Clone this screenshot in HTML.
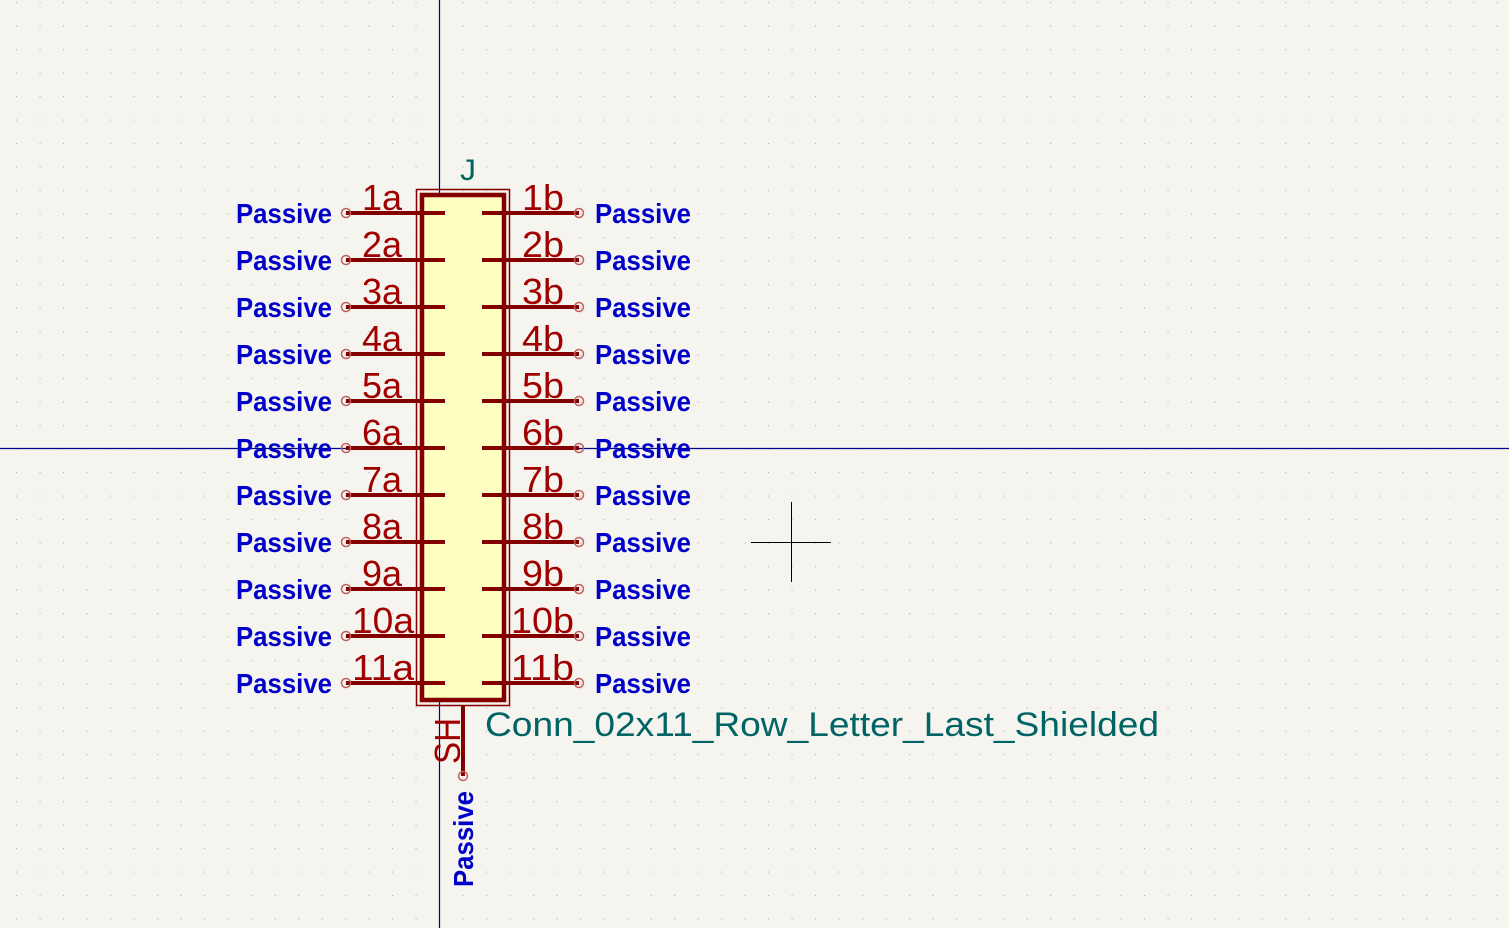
<!DOCTYPE html>
<html><head><meta charset="utf-8"><style>html,body{margin:0;padding:0;background:#f5f4ef;overflow:hidden;width:1509px;height:928px}svg{display:block}</style></head>
<body>
<svg width="1509" height="928" xmlns="http://www.w3.org/2000/svg">
<defs>
<pattern id="g" x="16" y="2" width="23.5" height="23.5" patternUnits="userSpaceOnUse">
<rect x="-0.5" y="-0.5" width="1.6" height="1.6" fill="#b4b4b4"/>
</pattern>
</defs>
<rect width="1509" height="928" fill="#f5f4ef"/>
<rect width="1509" height="928" fill="url(#g)"/>
<line x1="439.5" y1="0" x2="439.5" y2="928" stroke="#00008c" stroke-width="1.2"/>
<line x1="0" y1="448.5" x2="1509" y2="448.5" stroke="#00008c" stroke-width="1.2"/>
<line x1="751" y1="542.5" x2="831" y2="542.5" stroke="#000" stroke-width="1"/>
<line x1="791.5" y1="502" x2="791.5" y2="582" stroke="#000" stroke-width="1"/>
<rect x="416.5" y="189.5" width="93" height="516" fill="none" stroke="#840000" stroke-width="1.5"/>
<rect x="422" y="195" width="82" height="505" fill="#ffffc2" stroke="#840000" stroke-width="4.5"/>
<g stroke="#840000" stroke-width="4" fill="none">
<path d="M346 213H445M482 213H579M346 260H445M482 260H579M346 307H445M482 307H579M346 354H445M482 354H579M346 401H445M482 401H579M346 448H445M482 448H579M346 495H445M482 495H579M346 542H445M482 542H579M346 589H445M482 589H579M346 636H445M482 636H579M346 683H445M482 683H579M463 706V776"/>
</g>
<g stroke="#c06060" stroke-width="1.5" fill="none">
<circle cx="346" cy="213" r="4.5"/><circle cx="579" cy="213" r="4.5"/>
<circle cx="346" cy="260" r="4.5"/><circle cx="579" cy="260" r="4.5"/>
<circle cx="346" cy="307" r="4.5"/><circle cx="579" cy="307" r="4.5"/>
<circle cx="346" cy="354" r="4.5"/><circle cx="579" cy="354" r="4.5"/>
<circle cx="346" cy="401" r="4.5"/><circle cx="579" cy="401" r="4.5"/>
<circle cx="346" cy="448" r="4.5"/><circle cx="579" cy="448" r="4.5"/>
<circle cx="346" cy="495" r="4.5"/><circle cx="579" cy="495" r="4.5"/>
<circle cx="346" cy="542" r="4.5"/><circle cx="579" cy="542" r="4.5"/>
<circle cx="346" cy="589" r="4.5"/><circle cx="579" cy="589" r="4.5"/>
<circle cx="346" cy="636" r="4.5"/><circle cx="579" cy="636" r="4.5"/>
<circle cx="346" cy="683" r="4.5"/><circle cx="579" cy="683" r="4.5"/>
<circle cx="463" cy="776" r="4.5"/>
</g>
<g font-family="Liberation Sans, sans-serif" font-size="36" fill="#a00000">
<text x="362" y="210" textLength="40" lengthAdjust="spacingAndGlyphs">1a</text><text x="522" y="210" textLength="42" lengthAdjust="spacingAndGlyphs">1b</text>
<text x="362" y="257" textLength="40" lengthAdjust="spacingAndGlyphs">2a</text><text x="522" y="257" textLength="42" lengthAdjust="spacingAndGlyphs">2b</text>
<text x="362" y="304" textLength="40" lengthAdjust="spacingAndGlyphs">3a</text><text x="522" y="304" textLength="42" lengthAdjust="spacingAndGlyphs">3b</text>
<text x="362" y="351" textLength="40" lengthAdjust="spacingAndGlyphs">4a</text><text x="522" y="351" textLength="42" lengthAdjust="spacingAndGlyphs">4b</text>
<text x="362" y="398" textLength="40" lengthAdjust="spacingAndGlyphs">5a</text><text x="522" y="398" textLength="42" lengthAdjust="spacingAndGlyphs">5b</text>
<text x="362" y="445" textLength="40" lengthAdjust="spacingAndGlyphs">6a</text><text x="522" y="445" textLength="42" lengthAdjust="spacingAndGlyphs">6b</text>
<text x="362" y="492" textLength="40" lengthAdjust="spacingAndGlyphs">7a</text><text x="522" y="492" textLength="42" lengthAdjust="spacingAndGlyphs">7b</text>
<text x="362" y="539" textLength="40" lengthAdjust="spacingAndGlyphs">8a</text><text x="522" y="539" textLength="42" lengthAdjust="spacingAndGlyphs">8b</text>
<text x="362" y="586" textLength="40" lengthAdjust="spacingAndGlyphs">9a</text><text x="522" y="586" textLength="42" lengthAdjust="spacingAndGlyphs">9b</text>
<text x="352" y="633" textLength="62" lengthAdjust="spacingAndGlyphs">10a</text><text x="511" y="633" textLength="63" lengthAdjust="spacingAndGlyphs">10b</text>
<text x="352" y="680" textLength="62" lengthAdjust="spacingAndGlyphs">11a</text><text x="511" y="680" textLength="63" lengthAdjust="spacingAndGlyphs">11b</text>
<text transform="translate(460,764) rotate(-90)" textLength="46" lengthAdjust="spacingAndGlyphs">SH</text>
</g>
<g font-family="Liberation Sans, sans-serif" font-size="28" font-weight="bold" fill="#0000c8">
<text x="236" y="223" textLength="96" lengthAdjust="spacingAndGlyphs">Passive</text><text x="595" y="223" textLength="96" lengthAdjust="spacingAndGlyphs">Passive</text>
<text x="236" y="270" textLength="96" lengthAdjust="spacingAndGlyphs">Passive</text><text x="595" y="270" textLength="96" lengthAdjust="spacingAndGlyphs">Passive</text>
<text x="236" y="317" textLength="96" lengthAdjust="spacingAndGlyphs">Passive</text><text x="595" y="317" textLength="96" lengthAdjust="spacingAndGlyphs">Passive</text>
<text x="236" y="364" textLength="96" lengthAdjust="spacingAndGlyphs">Passive</text><text x="595" y="364" textLength="96" lengthAdjust="spacingAndGlyphs">Passive</text>
<text x="236" y="411" textLength="96" lengthAdjust="spacingAndGlyphs">Passive</text><text x="595" y="411" textLength="96" lengthAdjust="spacingAndGlyphs">Passive</text>
<text x="236" y="458" textLength="96" lengthAdjust="spacingAndGlyphs">Passive</text><text x="595" y="458" textLength="96" lengthAdjust="spacingAndGlyphs">Passive</text>
<text x="236" y="505" textLength="96" lengthAdjust="spacingAndGlyphs">Passive</text><text x="595" y="505" textLength="96" lengthAdjust="spacingAndGlyphs">Passive</text>
<text x="236" y="552" textLength="96" lengthAdjust="spacingAndGlyphs">Passive</text><text x="595" y="552" textLength="96" lengthAdjust="spacingAndGlyphs">Passive</text>
<text x="236" y="599" textLength="96" lengthAdjust="spacingAndGlyphs">Passive</text><text x="595" y="599" textLength="96" lengthAdjust="spacingAndGlyphs">Passive</text>
<text x="236" y="646" textLength="96" lengthAdjust="spacingAndGlyphs">Passive</text><text x="595" y="646" textLength="96" lengthAdjust="spacingAndGlyphs">Passive</text>
<text x="236" y="693" textLength="96" lengthAdjust="spacingAndGlyphs">Passive</text><text x="595" y="693" textLength="96" lengthAdjust="spacingAndGlyphs">Passive</text>
<text transform="translate(473,887) rotate(-90)" textLength="96" lengthAdjust="spacingAndGlyphs">Passive</text>
</g>
<g font-family="Liberation Sans, sans-serif" fill="#006464">
<text x="460" y="180" font-size="30" textLength="16" lengthAdjust="spacingAndGlyphs">J</text>
<text x="485" y="736" font-size="34" textLength="674" lengthAdjust="spacingAndGlyphs">Conn_02x11_Row_Letter_Last_Shielded</text>
</g>
</svg>
</body></html>
